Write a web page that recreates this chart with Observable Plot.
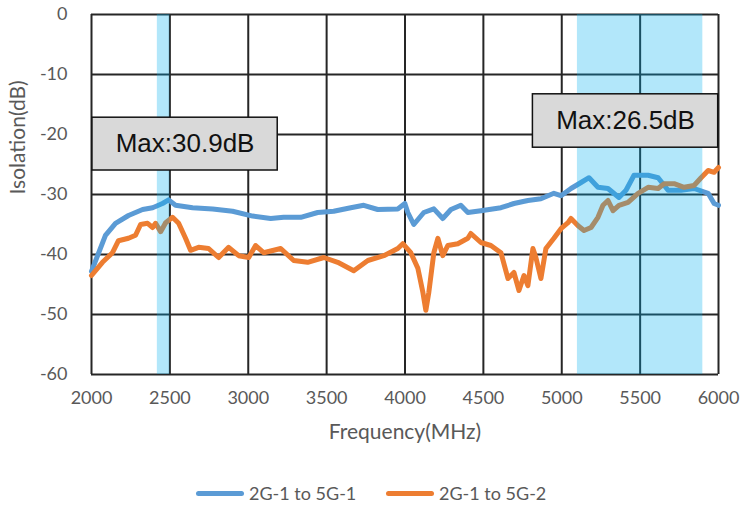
<!DOCTYPE html>
<html>
<head>
<meta charset="utf-8">
<script src="https://cdn.jsdelivr.net/npm/d3@7"></script>
<script src="https://cdn.jsdelivr.net/npm/@observablehq/plot@0.6"></script>
<style>
  html, body { margin: 0; padding: 0; background: #fff; }
  #chart { width: 744px; }
  .legend { position: relative; height: 40px; width: 744px; margin-top: 5px; font-family: Lato, "Open Sans", sans-serif; font-size: 18px; color: #595959; }
  .legend .item { position: absolute; top: 0; height: 40px; display: flex; align-items: center; }
  .legend .sw { display: inline-block; width: 48px; height: 5px; border-radius: 2.5px; margin-right: 5px; }
</style>
</head>
<body>
<div id="chart"></div>
<script>
// ---- data ----
const blueFreq = [2000,2089,2153,2236,2326,2390,2453,2492,2536,2645,2773,2900,3028,3143,3226,3335,3443,3545,3654,3737,3826,3954,3999,4018,4056,4120,4184,4241,4293,4356,4401,4484,4612,4695,4784,4867,4950,4995,5059,5123,5174,5231,5295,5365,5410,5461,5551,5615,5678,5761,5844,5934,5972,6000];
const blueDb = [-42.8,-36.8,-34.8,-33.5,-32.5,-32.2,-31.5,-30.9,-31.8,-32.2,-32.4,-32.8,-33.6,-34,-33.8,-33.8,-33,-32.8,-32.2,-31.8,-32.5,-32.4,-31.5,-33,-35,-33,-32.4,-34,-32.5,-31.8,-33,-32.7,-32.2,-31.5,-31,-30.7,-29.8,-30.2,-29,-28,-27.2,-28.8,-29,-30.5,-29.3,-26.8,-26.8,-27.2,-29.3,-29.3,-29,-29.8,-31.5,-31.8];

const orangeFreq = [2000,2070,2134,2172,2236,2281,2313,2358,2390,2409,2441,2473,2517,2556,2600,2632,2683,2747,2811,2875,2939,3003,3047,3098,3207,3290,3379,3482,3571,3673,3763,3865,3954,3986,4037,4082,4114,4133,4152,4184,4210,4241,4273,4337,4401,4420,4484,4548,4612,4657,4695,4727,4759,4784,4816,4835,4867,4899,4950,4995,5040,5059,5104,5142,5187,5231,5263,5295,5327,5365,5423,5487,5551,5615,5653,5717,5780,5844,5889,5934,5972,6000];
const orangeDb = [-43.5,-41.3,-39.7,-37.7,-37.3,-36.8,-35,-34.8,-35.5,-34.8,-36.2,-34.7,-33.8,-34.8,-37.3,-39.3,-38.8,-39,-40.5,-38.8,-40.2,-40.5,-38.5,-39.7,-39,-41,-41.3,-40.5,-41.3,-42.7,-41,-40.2,-39,-38.2,-39.7,-42.3,-46.3,-49.3,-46.3,-39.7,-37.3,-40.2,-38.5,-38.2,-37.3,-36.5,-38,-38.5,-39.7,-44,-43,-46,-43.5,-45.2,-39,-40.5,-44,-39,-37.3,-35.7,-34.7,-34,-35.2,-36,-35.5,-33.8,-31.8,-31,-32.7,-31.8,-31.3,-29.8,-28.8,-29,-28.2,-28.2,-28.8,-28.5,-27.2,-26,-26.3,-25.5];

const seriesNames = ["2G-1 to 5G-1", "2G-1 to 5G-2"];
const xTicks = [2000,2500,3000,3500,4000,4500,5000,5500,6000];
const yTicks = [0,-10,-20,-30,-40,-50,-60];
const bandStart = [2420, 5100];
const bandEnd = [2500, 5900];
const noteLabels = ["Max:30.9dB", "Max:26.5dB"];
const noteX1 = [2006, 4816];
const noteX2 = [3188, 5998];
const noteY1 = [-17.2, -13.3];
const noteY2 = [-26, -22.2];

// ---- build tables ----
const colors = ["#5B9BD5", "#ED7D31"];
const blue = blueFreq.map((f, i) => ({f, v: blueDb[i]}));
const orange = orangeFreq.map((f, i) => ({f, v: orangeDb[i]}));
const bands = bandStart.map((s, i) => ({s, e: bandEnd[i]}));
const notes = noteLabels.map((t, i) => ({t, x1: noteX1[i], x2: noteX2[i], y1: noteY1[i], y2: noteY2[i]}));

const font = "Lato, 'Open Sans', sans-serif";
const gridColor = "#262626";

const chart = Plot.plot({
  width: 744,
  height: 468,
  marginLeft: 91,
  marginRight: 26,
  marginTop: 14,
  marginBottom: 94,
  style: {fontFamily: font, background: "#fff", overflow: "visible"},
  x: {domain: [2000, 6000]},
  y: {domain: [-60, 0]},
  marks: [
    Plot.ruleX(xTicks, {x: d => d, stroke: gridColor, strokeWidth: 2}),
    Plot.ruleY(yTicks, {y: d => d, stroke: gridColor, strokeWidth: 2}),
    Plot.line(blue, {x: "f", y: "v", stroke: colors[0], strokeWidth: 5, strokeLinejoin: "round", strokeLinecap: "round"}),
    Plot.line(orange, {x: "f", y: "v", stroke: colors[1], strokeWidth: 5, strokeLinejoin: "round", strokeLinecap: "round"}),
    Plot.rect(bands, {x1: "s", x2: "e", fill: "#00B0F0", fillOpacity: 0.3}),
    Plot.rect(notes, {x1: "x1", x2: "x2", y1: "y1", y2: "y2", fill: "#D9D9D9", stroke: "#111", strokeWidth: 1.5}),
    Plot.text(notes, {x: d => (d.x1 + d.x2) / 2, y: d => (d.y1 + d.y2) / 2, text: "t", fontSize: 26, fill: "#111", fontFamily: "'Liberation Sans', Arial, sans-serif"}),
    Plot.axisX({ticks: xTicks, tickSize: 0, tickPadding: 17, tickFormat: d => String(d), fontSize: 18, color: "#595959", label: null}),
    Plot.axisY({ticks: yTicks, tickSize: 0, tickPadding: 24, tickFormat: d => String(d), fontSize: 18, color: "#595959", label: null}),
    Plot.text(["Frequency(MHz)"], {frameAnchor: "bottom", dy: 64, fontSize: 21, fill: "#595959"}),
    Plot.text(["Isolation(dB)"], {frameAnchor: "left", dx: -73, rotate: -90, fontSize: 21, fill: "#595959"})
  ]
});
document.getElementById("chart").appendChild(chart);

// legend
const legend = document.createElement("div");
legend.className = "legend";
const lefts = [196, 386];
seriesNames.forEach((name, i) => {
  const item = document.createElement("div");
  item.className = "item";
  item.style.left = lefts[i] + "px";
  const sw = document.createElement("span");
  sw.className = "sw";
  sw.style.background = colors[i];
  const tx = document.createElement("span");
  tx.textContent = name;
  item.appendChild(sw);
  item.appendChild(tx);
  legend.appendChild(item);
});
document.body.appendChild(legend);
</script>
</body>
</html>
